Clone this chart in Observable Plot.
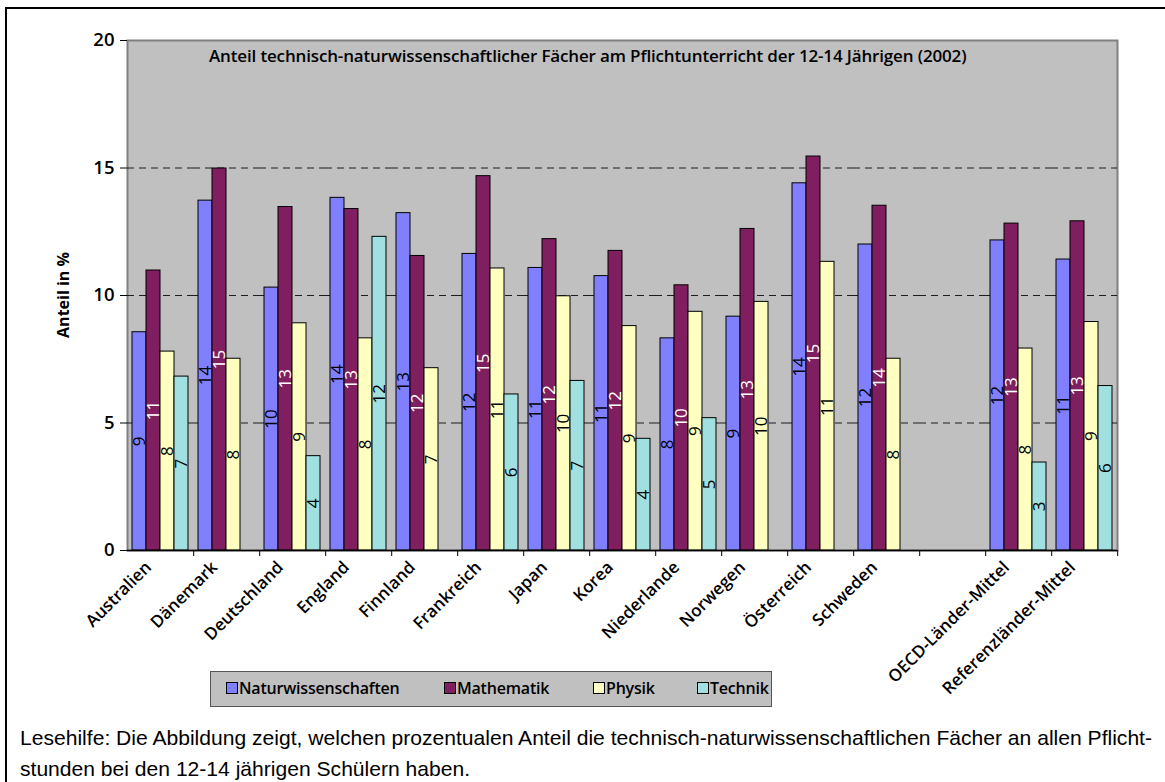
<!DOCTYPE html>
<html>
<head>
<meta charset="utf-8">
<script src="https://cdn.jsdelivr.net/npm/d3@7"></script>
<script src="https://cdn.jsdelivr.net/npm/@observablehq/plot@0.6"></script>
<style>
  html, body { margin: 0; padding: 0; background: #fff; }
  body { width: 1165px; height: 782px; position: relative; overflow: hidden; font-family: "Open Sans", "Noto Sans", sans-serif; }
  #border { position: absolute; left: 5px; top: 7px; width: 1200px; height: 800px; border-left: 2px solid #000; border-top: 2px solid #000; }
  #chart { position: absolute; left: 0; top: 0; }
  #title { position: absolute; left: 209px; top: 44px; font-size: 17px; font-weight: 600; color: #000; white-space: nowrap; letter-spacing: -0.15px; }
  #ylabel { position: absolute; left: 63px; top: 295px; font-size: 16px; font-weight: 700; white-space: nowrap; transform: translate(-50%, -50%) rotate(-90deg); }
  #legend { position: absolute; left: 210px; top: 671px; width: 562px; height: 36px; background: #C0C0C0; border: 1px solid #555; box-sizing: border-box; font-size: 16px; font-weight: 600; letter-spacing: -0.2px; }
  #legend .item { display: flex; align-items: center; position: absolute; top: 5px; }
  #legend .sw { width: 10px; height: 10px; border: 1px solid #000; margin-right: 1px; }
  #caption { position: absolute; left: 20px; top: 722px; font-family: "Liberation Sans", "Arimo", sans-serif; font-size: 21px; line-height: 31px; color: #000; white-space: nowrap; transform-origin: 0 0; }
</style>
</head>
<body>
<div id="border"></div>
<div id="chart"></div>
<div id="title"></div>
<div id="ylabel"></div>
<div id="legend"></div>
<div id="caption"></div>
<script>
const categories = ["Australien","Dänemark","Deutschland","England","Finnland","Frankreich","Japan","Korea","Niederlande","Norwegen","Österreich","Schweden"," ","OECD-Länder-Mittel","Referenzländer-Mittel"];
const series = ["Naturwissenschaften","Mathematik","Physik","Technik"];
const naturwissenschaften = [8.56,13.72,10.31,13.83,13.23,11.63,11.08,10.76,8.32,9.17,14.40,12.00,null,12.16,11.41];
const mathematik         = [10.98,14.98,13.47,13.39,11.55,14.68,12.21,11.75,10.40,12.61,15.45,13.52,null,12.82,12.91];
const physik             = [7.80,7.52,8.91,8.32,7.15,11.06,9.97,8.80,9.36,9.75,11.32,7.52,null,7.92,8.96];
const technik            = [6.82,null,3.70,12.30,null,6.12,6.65,4.38,5.19,null,null,null,null,3.45,6.45];
const colors = ["#8080FF","#801F60","#FFFFC0","#A0E0E0"];
const yTicks = [0,5,10,15,20];
const gridValues = [5,10,15];
const titleText = "Anteil technisch-naturwissenschaftlicher Fächer am Pflichtunterricht der 12-14 Jährigen (2002)";
const yLabel = "Anteil in %";
const captionLines = ["Lesehilfe: Die Abbildung zeigt, welchen prozentualen Anteil die technisch-naturwissenschaftlichen Fächer an allen Pflicht-", "stunden bei den 12-14 jährigen Schülern haben."];

const valuesBySeries = [naturwissenschaften, mathematik, physik, technik];
const rows = [];
categories.forEach((c, i) => {
  series.forEach((s, j) => {
    const v = valuesBySeries[j][i];
    if (v != null) rows.push({category: c, series: s, value: v});
  });
});
const gridRows = [];
categories.forEach(c => gridValues.forEach(v => gridRows.push({category: c, value: v})));
const baseRows = categories.map(c => ({category: c, value: 0}));

const W = 1165, ML = 124, MR = 45;
const facetStep = (W - ML - MR) / categories.length;

const chart = Plot.plot({
  width: W,
  height: 700,
  marginLeft: ML,
  marginRight: MR,
  marginTop: 40,
  marginBottom: 150,
  style: {fontFamily: "'Open Sans', 'Noto Sans', sans-serif", fontSize: "17px", fontWeight: 600, background: "transparent", color: "#000"},
  fx: {domain: categories, paddingInner: 0, paddingOuter: 0, label: null, axis: null},
  x: {domain: series, axis: null, paddingInner: 0, paddingOuter: 0.25},
  y: {domain: [0, 20], axis: null},
  color: {domain: series, range: colors},
  marks: [
    Plot.frame({fill: "#C0C0C0", shapeRendering: "crispEdges"}),
    Plot.frame({facet: "super", stroke: "#808080", strokeWidth: 2}),
    Plot.ruleY(gridRows, {fx: "category", y: "value", stroke: "#000", strokeDasharray: "7,5", strokeWidth: 1, strokeOpacity: 0.85}),
    Plot.barY(rows, {fx: "category", x: "series", y: "value", fill: "series", stroke: "#000", strokeWidth: 1}),
    Plot.text(rows, {filter: d => d.series !== "Mathematik", fx: "category", x: "series", y: d => d.value / 2, text: d => Math.round(d.value), rotate: -90, fill: "#000", fontSize: 17, fontWeight: 500}),
    Plot.text(rows, {filter: d => d.series === "Mathematik", fx: "category", x: "series", y: d => d.value / 2, text: d => Math.round(d.value), rotate: -90, fill: "#fff", fontSize: 17, fontWeight: 500}),
    Plot.ruleY(baseRows, {fx: "category", y: "value", stroke: "#000", strokeWidth: 1.5}),
    Plot.axisY({ticks: yTicks, label: null, tickSize: 7, tickPadding: 6, line: true, fontSize: 18.5, fontWeight: 600}),
    Plot.axisFx({anchor: "bottom", label: null, tickSize: 6, tickFormat: () => "", dx: facetStep / 2}),
    Plot.axisFx({anchor: "bottom", label: null, tickRotate: -45, tickSize: 0, tickPadding: 9, dx: -12, dy: 5, fontSize: 17, fontWeight: 600})
  ]
});
document.getElementById("chart").appendChild(chart);

document.getElementById("title").textContent = titleText;
document.getElementById("ylabel").textContent = yLabel;

const legend = document.getElementById("legend");
const legendLeft = [15, 233, 382, 486];
series.forEach((s, j) => {
  const item = document.createElement("div");
  item.className = "item";
  item.style.left = legendLeft[j] + "px";
  const sw = document.createElement("div");
  sw.className = "sw";
  sw.style.background = colors[j];
  const t = document.createElement("span");
  t.textContent = s;
  item.appendChild(sw);
  item.appendChild(t);
  legend.appendChild(item);
});

const cap = document.getElementById("caption");
cap.innerHTML = captionLines.join("<br>");
const w = cap.getBoundingClientRect().width;
cap.style.transform = `scaleX(${1132 / w})`;
</script>
</body>
</html>
